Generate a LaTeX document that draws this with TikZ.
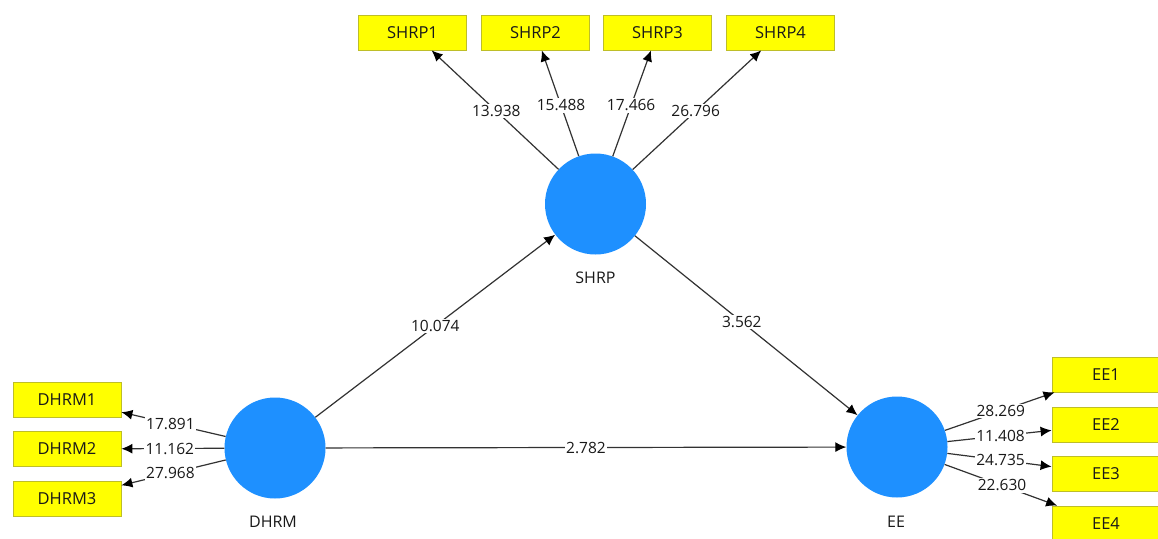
\documentclass[tikz,border=0pt]{standalone}
\usepackage{fontspec}
\setmainfont{Open Sans}
\usetikzlibrary{arrows.meta}
\definecolor{lvblue}{RGB}{30,144,255}
\definecolor{mvyellow}{RGB}{255,255,0}
\definecolor{mvborder}{RGB}{190,190,40}
\definecolor{edgegray}{RGB}{50,50,50}
\definecolor{txt}{RGB}{25,25,25}
\tikzset{
  latent/.style={circle, fill=lvblue, draw=none, minimum size=101pt, inner sep=0pt},
  manifest/.style={rectangle, fill=mvyellow, draw=mvborder, line width=0.8pt, minimum width=108pt, minimum height=35pt, inner sep=0pt, font=\fontsize{16.5}{19}\selectfont, text=txt},
  lvlabel/.style={font=\fontsize{16}{19}\selectfont, text=txt},
  conn/.style={draw=edgegray, line width=1.2pt, -{Latex[length=11pt,width=10pt,color=black]}},
  val/.style={fill=white, inner sep=1.5pt, font=\fontsize{15.5}{18}\selectfont, text=txt},
}
\begin{document}
\begin{tikzpicture}[x=1pt,y=-1pt]
\useasboundingbox (0,0) rectangle (1158,538);
\clip (0,0) rectangle (1158,538);
\fill[white] (0,0) rectangle (1158,538);
% latent variables
\node[latent] (SHRP) at (595.5,204) {};
\node[latent] (DHRM) at (275,448) {};
\node[latent] (EE) at (897,447) {};
\node[lvlabel] (SHRPl) at (595.5,278) {SHRP};
\node[lvlabel] (DHRMl) at (273,522) {DHRM};
\node[lvlabel] (EEl) at (896,522) {EE};
% indicators
\node[manifest] (SHRP1) at (412.5,32.5) {SHRP1};
\node[manifest] (SHRP2) at (535.5,32.5) {SHRP2};
\node[manifest] (SHRP3) at (657.5,32.5) {SHRP3};
\node[manifest] (SHRP4) at (780.5,32.5) {SHRP4};
\node[manifest] (DHRM1) at (67,399.5) {DHRM1};
\node[manifest] (DHRM2) at (67,449) {DHRM2};
\node[manifest] (DHRM3) at (67,498.5) {DHRM3};
\node[manifest] (EE1) at (1106,374.5) {EE1};
\node[manifest] (EE2) at (1106,424.5) {EE2};
\node[manifest] (EE3) at (1106,473.5) {EE3};
\node[manifest] (EE4) at (1106,523.5) {EE4};
% outer loadings
\draw[conn] (SHRP) -- node[val,pos=0.49] {13.938} (SHRP1);
\draw[conn] (SHRP) -- node[val,pos=0.48] {15.488} (SHRP2);
\draw[conn] (SHRP) -- node[val,pos=0.48] {17.466} (SHRP3);
\draw[conn] (SHRP) -- node[val,pos=0.49] {26.796} (SHRP4);
\draw[conn] (DHRM) -- node[val,pos=0.53] {17.891} (DHRM1);
\draw[conn] (DHRM) -- node[val,pos=0.53] {11.162} (DHRM2);
\draw[conn] (DHRM) -- node[val,pos=0.53] {27.968} (DHRM3);
\draw[conn] (EE) -- node[val,pos=0.51] {28.269} (EE1);
\draw[conn] (EE) -- node[val,pos=0.51] {11.408} (EE2);
\draw[conn] (EE) -- node[val,pos=0.51] {24.735} (EE3);
\draw[conn] (EE) -- node[val,pos=0.51] {22.630} (EE4);
% structural paths
\draw[conn] (DHRM) -- node[val,pos=0.5] {10.074} (SHRP);
\draw[conn] (SHRP) -- node[val,pos=0.48] {3.562} (EE);
\draw[conn] (DHRM) -- node[val,pos=0.5] {2.782} (EE);
\end{tikzpicture}
\end{document}
